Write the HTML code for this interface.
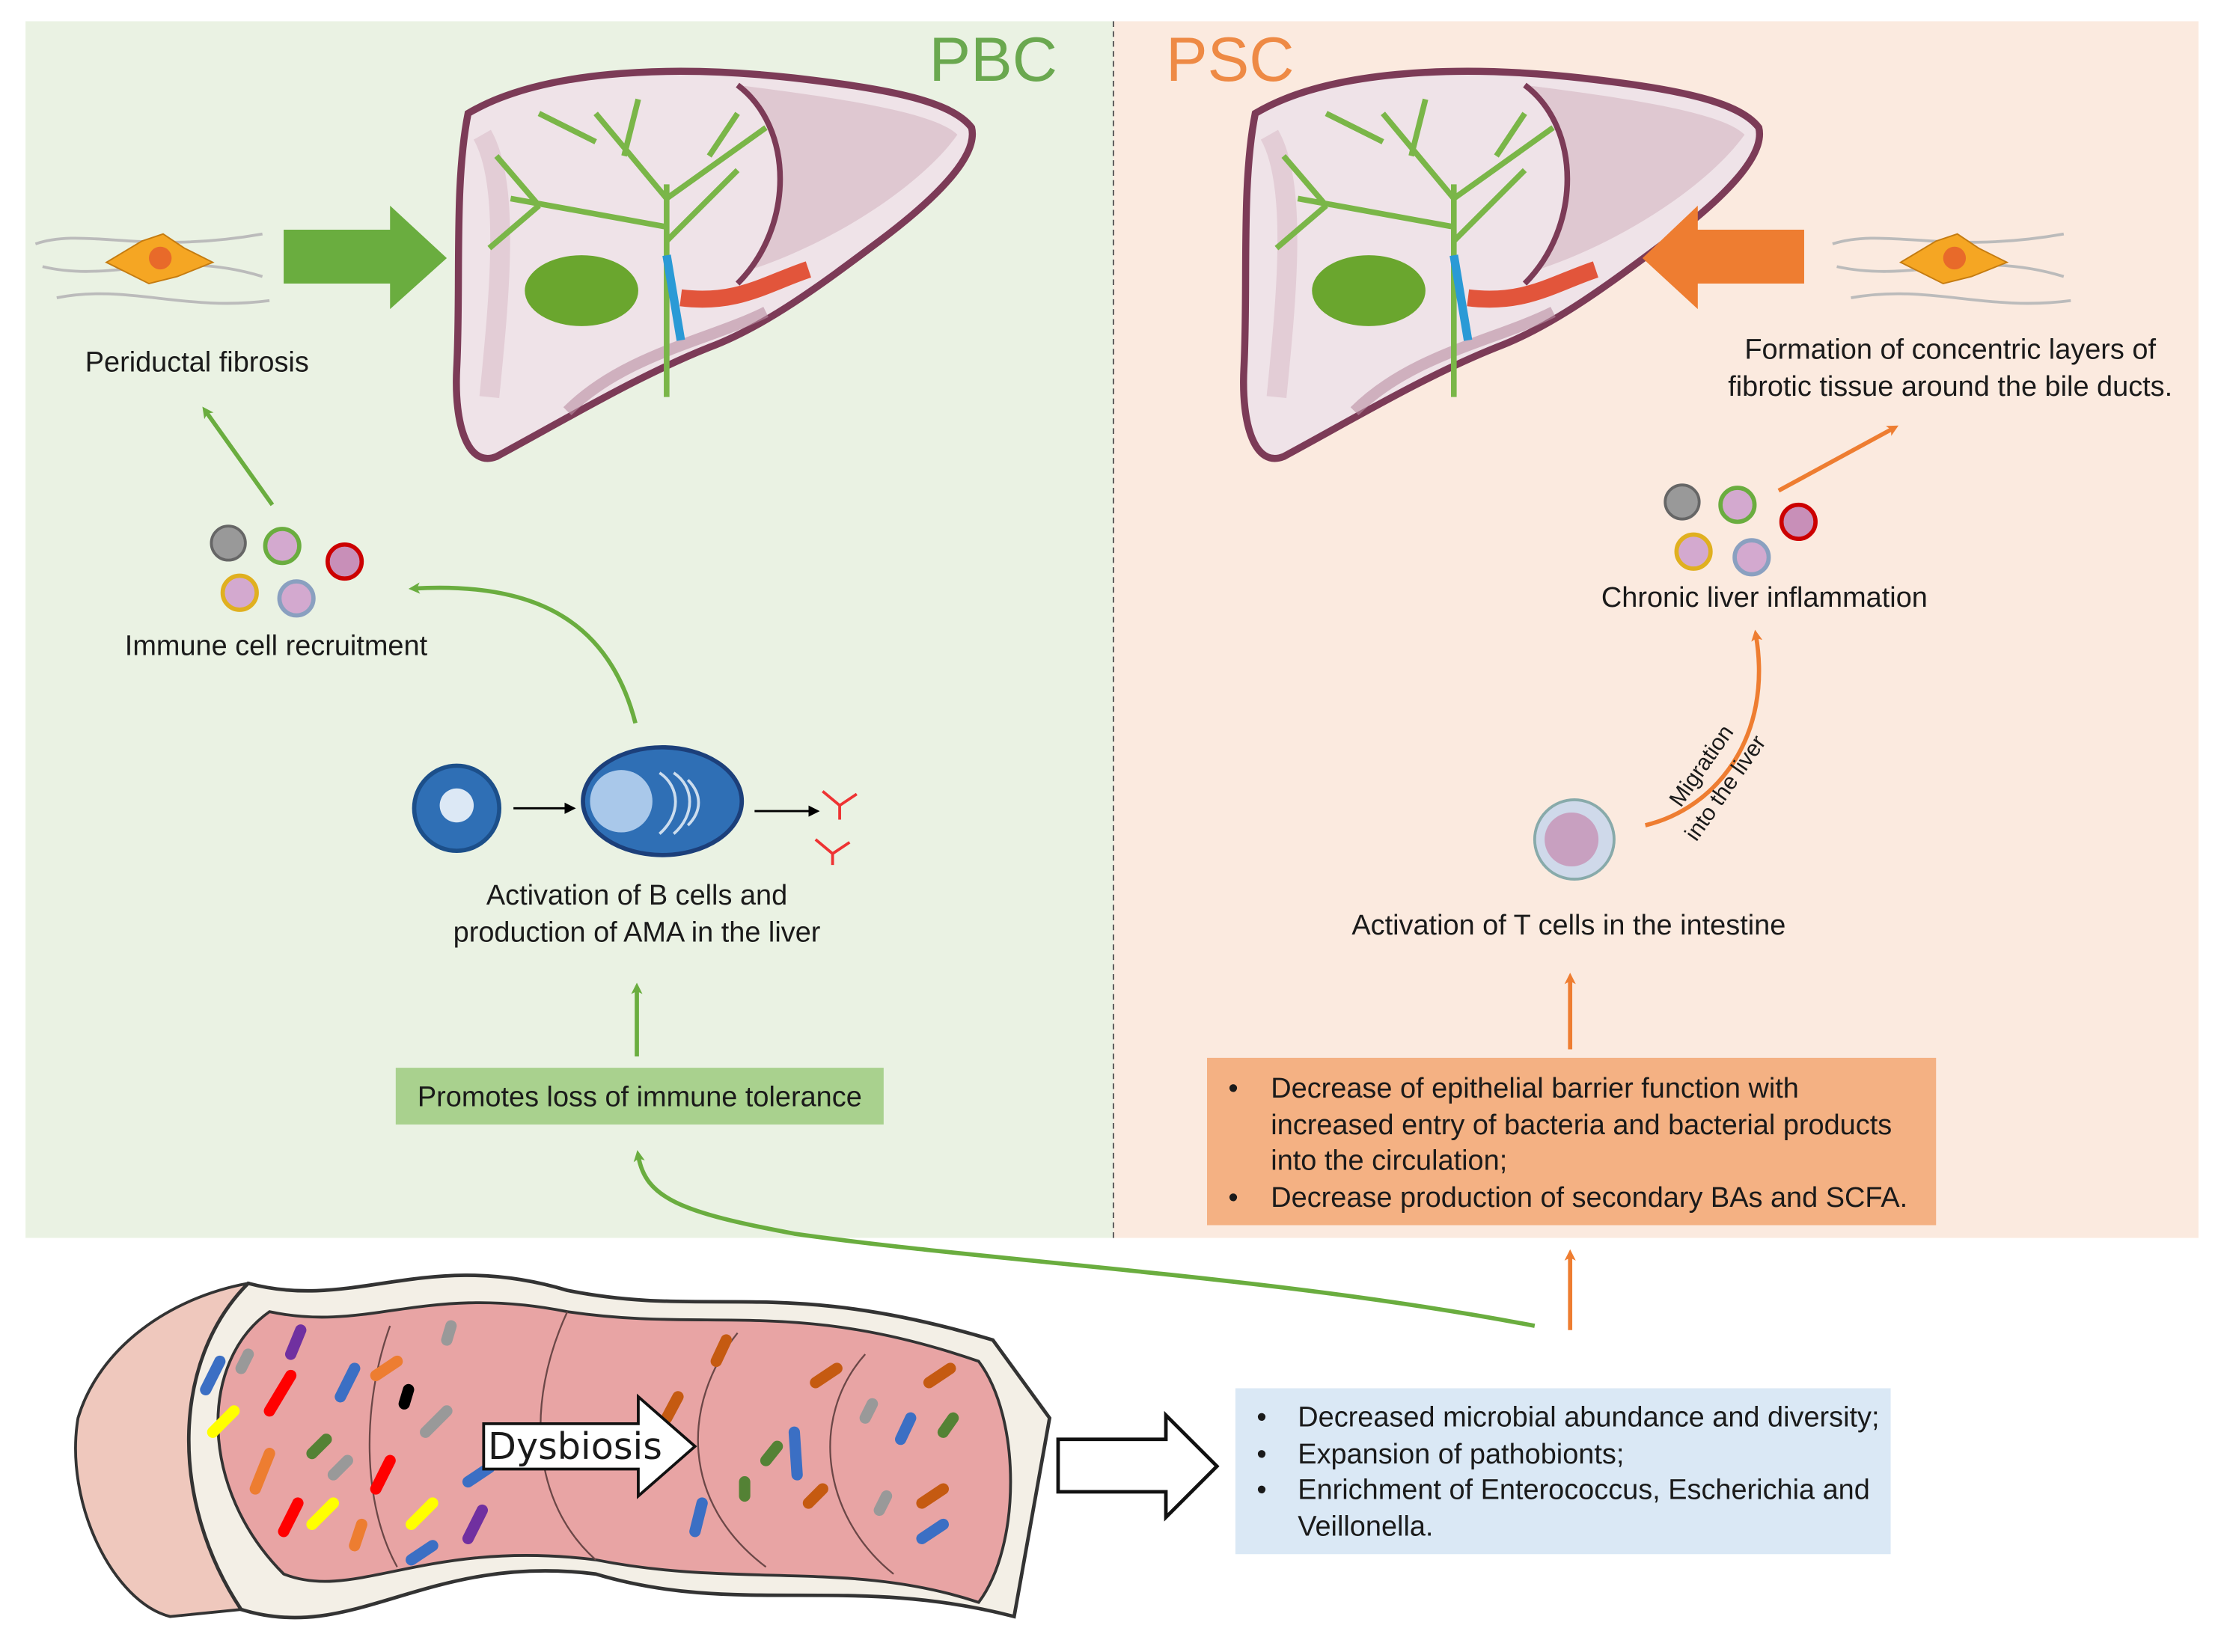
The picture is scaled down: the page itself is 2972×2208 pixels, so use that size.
<!DOCTYPE html>
<html><head><meta charset="utf-8"><style>
html,body{margin:0;padding:0;background:#fff}
svg{display:block}
text{font-family:"Liberation Sans",sans-serif;fill:#1a1a1a}
</style></head><body>
<svg width="2972" height="2208" viewBox="0 0 1568 1165" preserveAspectRatio="none" xmlns="http://www.w3.org/2000/svg">
<defs>
<marker id="ag" markerWidth="8" markerHeight="8" refX="4" refY="4" orient="auto" markerUnits="userSpaceOnUse" viewBox="0 0 8 8"><path d="M0,0 L8,4 L0,8 L2,4z" fill="#6aad3f"/></marker>
<marker id="ao" markerWidth="8" markerHeight="8" refX="4" refY="4" orient="auto" markerUnits="userSpaceOnUse" viewBox="0 0 8 8"><path d="M0,0 L8,4 L0,8 L2,4z" fill="#ee7d31"/></marker>
<marker id="ak" markerWidth="8" markerHeight="8" refX="6" refY="4" orient="auto" markerUnits="userSpaceOnUse" viewBox="0 0 8 8"><path d="M0,0 L8,4 L0,8z" fill="#000"/></marker>
<g id="liver">
<path d="M330,80 C380,50 470,45 560,55 C620,62 670,70 685,90 C690,110 660,140 620,170 C580,200 540,230 500,245 C450,265 400,295 350,322 C330,330 320,300 322,260 C325,200 320,130 330,80z" fill="#efe3e8" stroke="#7c3b57" stroke-width="5"/>
<path d="M520,60 C600,70 660,80 675,95 C650,130 590,170 530,190 C560,150 560,100 520,60z" fill="#d9bcc8" opacity="0.7"/>
<path d="M520,60 C560,90 560,160 520,200" fill="none" stroke="#7c3b57" stroke-width="4"/>
<path d="M400,290 C440,250 500,240 540,220" fill="none" stroke="#b98ea2" stroke-width="8" opacity="0.6"/>
<path d="M340,95 C360,130 352,210 345,280" fill="none" stroke="#e3cdd6" stroke-width="14"/>
<ellipse cx="410" cy="205" rx="40" ry="25" fill="#6aa62e"/>
<path d="M470,130 L470,280 M470,140 L420,80 M470,140 L540,90 M470,160 L360,140 M470,170 L520,120 M420,100 L380,80 M500,110 L520,80 M440,110 L450,70 M380,145 L350,110 M380,145 L345,175" stroke="#7ab648" stroke-width="4" fill="none"/>
<path d="M480,210 C520,215 540,200 570,190" stroke="#e2553b" stroke-width="12" fill="none"/>
<path d="M470,180 L480,240" stroke="#2a9ad6" stroke-width="6"/>
</g>
</defs>

<rect x="18" y="15" width="767" height="858" fill="#eaf2e3"/>
<rect x="785" y="15" width="765" height="858" fill="#fbeadf"/>
<line x1="785" y1="15" x2="785" y2="873" stroke="#555" stroke-width="1" stroke-dasharray="4,3"/>
<text x="655" y="57" font-size="44" style="fill:#6aa84f">PBC</text>
<text x="822" y="57" font-size="44" style="fill:#ee8a45">PSC</text>

<use href="#liver"/>
<use href="#liver" x="555"/>

<path d="M200,162 L275,162 L275,145 L315,182 L275,218 L275,200 L200,200z" fill="#6aad3f"/>
<path d="M1272,162 L1197,162 L1197,145 L1158,182 L1197,218 L1197,200 L1272,200z" fill="#ee7d31"/>

<g stroke="#bbb" stroke-width="2" fill="none">
<path d="M25,172 C60,160 100,180 185,165"/><path d="M30,188 C80,200 120,175 185,195"/><path d="M40,210 C90,200 130,220 190,212"/>
<path d="M1292,172 C1330,160 1370,180 1455,165"/><path d="M1295,188 C1350,200 1390,175 1455,195"/><path d="M1305,210 C1360,200 1400,220 1460,212"/>
</g>
<path d="M75,185 L100,170 L115,165 L130,175 L150,185 L125,195 L105,200z" fill="#f5a623" stroke="#c47b10"/>
<circle cx="113" cy="182" r="8" fill="#e86a2a"/>
<path d="M1340,185 L1365,170 L1380,165 L1395,175 L1415,185 L1390,195 L1370,200z" fill="#f5a623" stroke="#c47b10"/>
<circle cx="1378" cy="182" r="8" fill="#e86a2a"/>

<g font-size="20">
<text x="60" y="262">Periductal fibrosis</text>
<text x="1375" y="253" text-anchor="middle">Formation of concentric layers of</text>
<text x="1375" y="279" text-anchor="middle">fibrotic tissue around the bile ducts.</text>
</g>

<circle cx="161" cy="383" r="12" fill="#999" stroke="#666" stroke-width="2"/>
<circle cx="199" cy="385" r="12" fill="#d3a9cf" stroke="#6aad3f" stroke-width="3"/>
<circle cx="243" cy="396" r="12" fill="#c88fb8" stroke="#c00" stroke-width="3"/>
<circle cx="169" cy="418" r="12" fill="#d3a9cf" stroke="#e0b020" stroke-width="3"/>
<circle cx="209" cy="422" r="12" fill="#d3a9cf" stroke="#8aa0c0" stroke-width="3"/>
<text x="88" y="462" font-size="20">Immune cell recruitment</text>
<line x1="192" y1="356" x2="145" y2="290" stroke="#6aad3f" stroke-width="3" marker-end="url(#ag)"/>
<path d="M448,510 C430,440 380,410 292,415" fill="none" stroke="#6aad3f" stroke-width="3" marker-end="url(#ag)"/>

<circle cx="1186" cy="354" r="12" fill="#999" stroke="#666" stroke-width="2"/>
<circle cx="1225" cy="356" r="12" fill="#d3a9cf" stroke="#6aad3f" stroke-width="3"/>
<circle cx="1268" cy="368" r="12" fill="#c88fb8" stroke="#c00" stroke-width="3"/>
<circle cx="1194" cy="389" r="12" fill="#d3a9cf" stroke="#e0b020" stroke-width="3"/>
<circle cx="1235" cy="393" r="12" fill="#d3a9cf" stroke="#8aa0c0" stroke-width="3"/>
<text x="1244" y="428" font-size="20" text-anchor="middle">Chronic liver inflammation</text>
<line x1="1254" y1="346" x2="1335" y2="302" stroke="#ee7d31" stroke-width="3" marker-end="url(#ao)"/>

<circle cx="322" cy="570" r="30" fill="#2f6fb5" stroke="#1c4f8a" stroke-width="3"/>
<circle cx="322" cy="568" r="12" fill="#dce8f5"/>
<ellipse cx="467" cy="565" rx="56" ry="38" fill="#2f6fb5" stroke="#1c3f7a" stroke-width="3"/>
<circle cx="438" cy="565" r="22" fill="#a9c8ea"/>
<path d="M465,545 C480,555 480,575 465,588 M475,545 C490,555 490,575 475,588 M485,550 C495,560 495,572 485,582" stroke="#cde" stroke-width="2" fill="none"/>
<line x1="362" y1="570" x2="404" y2="570" stroke="#000" stroke-width="1.5" marker-end="url(#ak)"/>
<line x1="532" y1="572" x2="576" y2="572" stroke="#000" stroke-width="1.5" marker-end="url(#ak)"/>
<path d="M580,558 L592,568 L604,560 M592,568 L592,578 M575,592 L587,602 L599,594 M587,602 L587,610" stroke="#e33" stroke-width="2" fill="none"/>
<text x="449" y="638" font-size="20" text-anchor="middle">Activation of B cells and</text>
<text x="449" y="664" font-size="20" text-anchor="middle">production of AMA in the liver</text>
<line x1="449" y1="745" x2="449" y2="697" stroke="#6aad3f" stroke-width="3" marker-end="url(#ag)"/>
<rect x="279" y="753" width="344" height="40" fill="#a9d18e"/>
<text x="451" y="780" font-size="20" text-anchor="middle">Promotes loss of immune tolerance</text>
<path d="M1082,935 C900,900 700,890 560,870 C480,855 455,845 450,815" fill="none" stroke="#6aad3f" stroke-width="3" marker-end="url(#ag)"/>

<circle cx="1110" cy="592" r="28" fill="#cfd9ea" stroke="#8aa" stroke-width="2"/>
<circle cx="1108" cy="592" r="19" fill="#c8a0c0"/>
<path d="M1160,582 C1210,570 1250,520 1238,448" fill="none" stroke="#ee7d31" stroke-width="3" marker-end="url(#ao)"/>
<text font-size="16" transform="translate(1185,570) rotate(-55)">Migration</text>
<text font-size="16" transform="translate(1196,594) rotate(-55)">into the liver</text>
<text x="1106" y="659" font-size="20" text-anchor="middle">Activation of T cells in the intestine</text>
<line x1="1107" y1="740" x2="1107" y2="690" stroke="#ee7d31" stroke-width="3" marker-end="url(#ao)"/>
<rect x="851" y="746" width="514" height="118" fill="#f4b183"/>
<g font-size="20">
<text x="866" y="774">•</text><text x="896" y="774">Decrease of epithelial barrier function with</text>
<text x="896" y="800">increased entry of bacteria and bacterial products</text>
<text x="896" y="825">into the circulation;</text>
<text x="866" y="851">•</text><text x="896" y="851">Decrease production of secondary BAs and SCFA.</text>
</g>
<line x1="1107" y1="938" x2="1107" y2="885" stroke="#ee7d31" stroke-width="3" marker-end="url(#ao)"/>

<rect x="871" y="979" width="462" height="117" fill="#dae8f5"/>
<g font-size="20">
<text x="886" y="1006">•</text><text x="915" y="1006">Decreased microbial abundance and diversity;</text>
<text x="886" y="1032">•</text><text x="915" y="1032">Expansion of pathobionts;</text>
<text x="886" y="1057">•</text><text x="915" y="1057">Enrichment of Enterococcus, Escherichia and</text>
<text x="915" y="1083">Veillonella.</text>
</g>
<path d="M746,1015 L822,1015 L822,998 L858,1034 L822,1070 L822,1052 L746,1052z" fill="#fff" stroke="#111" stroke-width="2.5"/>

<path d="M175,905 C120,915 70,950 55,1000 C45,1060 80,1130 120,1140 L170,1135 Z" fill="#efc8bd" stroke="#333" stroke-width="2"/>
<path d="M175,905 C250,925 300,880 400,910 C500,930 550,900 700,945 L740,1000 L715,1140 C600,1110 520,1140 420,1110 C300,1095 250,1160 170,1135 C120,1060 120,960 175,905z" fill="#f3efe6" stroke="#333" stroke-width="2.5"/>
<path d="M190,925 C260,940 300,905 400,925 C500,940 560,915 690,960 C720,1000 720,1090 690,1130 C600,1100 520,1120 420,1100 C300,1085 250,1130 200,1110 C140,1050 140,960 190,925z" fill="#e8a4a4" stroke="#333" stroke-width="2"/>
<g stroke="#6b4747" stroke-width="1.2" fill="none">
<path d="M275,935 C255,990 255,1060 280,1105"/><path d="M400,925 C370,990 375,1060 420,1100"/><path d="M520,940 C480,990 480,1060 540,1105"/><path d="M610,955 C570,1000 580,1070 630,1110"/>
</g>
<g stroke-width="8" stroke-linecap="round">
<line x1="145" y1="980" x2="155" y2="960" stroke="#3b6fc4"/><line x1="205" y1="955" x2="212" y2="938" stroke="#7030a0"/>
<line x1="190" y1="995" x2="205" y2="970" stroke="#f00"/><line x1="150" y1="1010" x2="165" y2="995" stroke="#ff0"/>
<line x1="180" y1="1050" x2="190" y2="1025" stroke="#ed7d31"/><line x1="200" y1="1080" x2="210" y2="1060" stroke="#f00"/>
<line x1="220" y1="1075" x2="235" y2="1060" stroke="#ff0"/><line x1="250" y1="1090" x2="255" y2="1075" stroke="#ed7d31"/>
<line x1="265" y1="1050" x2="275" y2="1030" stroke="#f00"/><line x1="290" y1="1075" x2="305" y2="1060" stroke="#ff0"/>
<line x1="300" y1="1010" x2="315" y2="995" stroke="#999"/><line x1="330" y1="1045" x2="345" y2="1035" stroke="#3b6fc4"/>
<line x1="330" y1="1085" x2="340" y2="1065" stroke="#7030a0"/><line x1="290" y1="1100" x2="305" y2="1090" stroke="#3b6fc4"/>
<line x1="265" y1="970" x2="280" y2="960" stroke="#ed7d31"/><line x1="240" y1="985" x2="250" y2="965" stroke="#3b6fc4"/>
<line x1="220" y1="1025" x2="230" y2="1015" stroke="#548235"/><line x1="505" y1="960" x2="512" y2="945" stroke="#c55a11"/>
<line x1="470" y1="1000" x2="478" y2="985" stroke="#c55a11"/><line x1="560" y1="1010" x2="562" y2="1040" stroke="#3b6fc4"/>
<line x1="490" y1="1080" x2="495" y2="1060" stroke="#3b6fc4"/><line x1="575" y1="975" x2="590" y2="965" stroke="#c55a11"/>
<line x1="635" y1="1015" x2="642" y2="1000" stroke="#3b6fc4"/><line x1="655" y1="975" x2="670" y2="965" stroke="#c55a11"/>
<line x1="650" y1="1060" x2="665" y2="1050" stroke="#c55a11"/><line x1="650" y1="1085" x2="665" y2="1075" stroke="#3b6fc4"/>
<line x1="570" y1="1060" x2="580" y2="1050" stroke="#c55a11"/><line x1="620" y1="1065" x2="625" y2="1055" stroke="#999"/>
<line x1="665" y1="1010" x2="672" y2="1000" stroke="#548235"/><line x1="525" y1="1055" x2="525" y2="1045" stroke="#548235"/>
<line x1="315" y1="945" x2="318" y2="935" stroke="#999"/><line x1="285" y1="990" x2="288" y2="980" stroke="#000"/>
<line x1="170" y1="965" x2="175" y2="955" stroke="#999"/><line x1="235" y1="1040" x2="245" y2="1030" stroke="#999"/>
<line x1="540" y1="1030" x2="548" y2="1020" stroke="#548235"/><line x1="610" y1="1000" x2="615" y2="990" stroke="#999"/>
</g>
<path d="M341,1004 L450,1004 L450,985 L490,1020 L450,1055 L450,1036 L341,1036z" fill="#fff" stroke="#111" stroke-width="2"/>
<text x="344" y="1029" font-size="26" style="font-family:'DejaVu Sans',sans-serif">Dysbiosis</text>
</svg>
</body></html>
